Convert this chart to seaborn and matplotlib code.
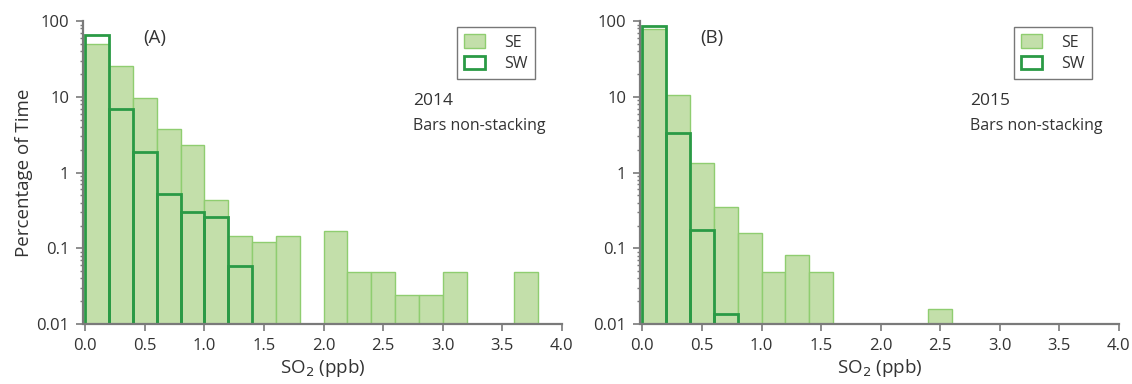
import numpy as np
import pandas as pd
import matplotlib
matplotlib.use("Agg")
import matplotlib.pyplot as plt
from matplotlib.patches import Patch
from matplotlib.ticker import LogLocator, FixedLocator, FuncFormatter
import seaborn as sns

# ---- data (bin left edges in ppb, percentage of time) ----
bin_width = 0.2
se_2014_left = [0.0, 0.2, 0.4, 0.6, 0.8, 1.0, 1.2, 1.4, 1.6, 2.0, 2.2, 2.4, 2.6, 2.8, 3.0, 3.6]
se_2014_pct = [50, 25.3, 9.7, 3.74, 2.35, 0.43, 0.144, 0.120, 0.144, 0.171, 0.048, 0.048, 0.024, 0.024, 0.048, 0.048]
sw_2014_left = [0.0, 0.2, 0.4, 0.6, 0.8, 1.0, 1.2]
sw_2014_pct = [66, 6.86, 1.88, 0.515, 0.301, 0.257, 0.058]

se_2015_left = [0.0, 0.2, 0.4, 0.6, 0.8, 1.0, 1.2, 1.4, 2.4]
se_2015_pct = [77.6, 10.5, 1.33, 0.351, 0.161, 0.048, 0.081, 0.048, 0.016]
sw_2015_left = [0.0, 0.2, 0.4, 0.6]
sw_2015_pct = [86, 3.34, 0.173, 0.0138]

panel_labels = ["(A)", "(B)"]
years = ["2014", "2015"]
note = "Bars non-stacking"
x_ticks = [0.0, 0.5, 1.0, 1.5, 2.0, 2.5, 3.0, 3.5, 4.0]
y_ticks = [0.01, 0.1, 1, 10, 100]

SE_FILL = "#c3dfaa"
SE_EDGE = "#8fcd70"
SW_EDGE = "#2a9a45"
AX_GRAY = "#7a7a7a"
TXT = "#333333"

sns.set_theme(style="ticks")
plt.rcParams["font.family"] = ["Open Sans", "DejaVu Sans"]

fig = plt.figure(figsize=(11.32, 3.84), dpi=100)
axA = fig.add_axes([0.0733, 0.156, 0.423, 0.789])
axB = fig.add_axes([0.5654, 0.156, 0.423, 0.789])

datasets = [
    (se_2014_left, se_2014_pct, sw_2014_left, sw_2014_pct),
    (se_2015_left, se_2015_pct, sw_2015_left, sw_2015_pct),
]

for i, (ax, (sel, sep, swl, swp)) in enumerate(zip([axA, axB], datasets)):
    se_df = pd.DataFrame({"x": np.array(sel) + bin_width / 2, "pct": sep})
    sw_df = pd.DataFrame({"x": np.array(swl) + bin_width / 2, "pct": swp})
    sns.histplot(data=se_df, x="x", weights="pct", binwidth=bin_width, binrange=(0, 4),
                 ax=ax, element="bars", fill=True, color=SE_FILL, alpha=1.0,
                 edgecolor=SE_EDGE, linewidth=1.0)
    sns.histplot(data=sw_df, x="x", weights="pct", binwidth=bin_width, binrange=(0, 4),
                 ax=ax, element="bars", fill=False, color=SW_EDGE,
                 linewidth=2.0)
    ax.set_yscale("log")
    ax.set_ylim(0.01, 100)
    ax.set_xlim(-0.02, 4.0)

    ax.xaxis.set_major_locator(FixedLocator(x_ticks))
    ax.set_xticklabels([f"{t:.1f}" for t in x_ticks])
    ax.yaxis.set_major_locator(FixedLocator(y_ticks))
    ax.yaxis.set_major_formatter(FuncFormatter(lambda v, p: f"{v:g}"))
    ax.yaxis.set_minor_locator(LogLocator(base=10, subs=np.arange(2, 10), numticks=20))
    ax.yaxis.set_minor_formatter(FuncFormatter(lambda v, p: ""))

    sns.despine(ax=ax)
    for s in ["left", "bottom"]:
        ax.spines[s].set_color(AX_GRAY)
        ax.spines[s].set_linewidth(1.6)
    ax.spines["bottom"].set_bounds(0.0, 4.0)
    ax.tick_params(axis="both", which="major", direction="out", length=5,
                   width=1.2, color=AX_GRAY, labelsize=12, labelcolor=TXT, pad=5)
    ax.tick_params(axis="y", which="minor", direction="out", length=2.5,
                   width=1.0, color=AX_GRAY)

    ax.set_xlabel("SO$_2$ (ppb)", fontsize=13.5, color=TXT, labelpad=2)
    if i == 0:
        ax.set_ylabel("Percentage of Time", fontsize=13.5, color=TXT, labelpad=2)
    else:
        ax.set_ylabel("")

    ax.text(0.15, 0.944, panel_labels[i], transform=ax.transAxes, fontsize=13.5,
            color=TXT, ha="center", va="center")
    ax.text(0.69, 0.735, years[i], transform=ax.transAxes, fontsize=12.5,
            color=TXT, ha="left", va="center")
    ax.text(0.69, 0.655, note, transform=ax.transAxes, fontsize=11.5,
            color=TXT, ha="left", va="center")

    handles = [Patch(facecolor=SE_FILL, edgecolor=SE_EDGE, linewidth=1.0, label="SE"),
               Patch(facecolor="white", edgecolor=SW_EDGE, linewidth=2.0, label="SW")]
    leg = ax.legend(handles=handles, loc="upper right", bbox_to_anchor=(0.944, 0.98),
                    frameon=True, fancybox=False, fontsize=11.5, handlelength=1.3,
                    handleheight=0.9, handletextpad=1.2, borderpad=0.45,
                    labelspacing=0.35, borderaxespad=0.0)
    leg.get_frame().set_edgecolor("#555555")
    leg.get_frame().set_linewidth(1.0)
    for t in leg.get_texts():
        t.set_color(TXT)

fig.savefig("out.png", dpi=100)
